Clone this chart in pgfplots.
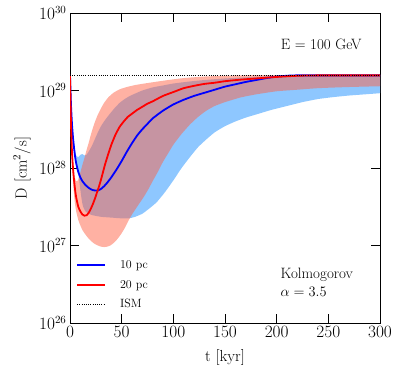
\documentclass[border=0pt]{standalone}
\usepackage{pgfplots}
\pgfplotsset{compat=1.18}
\usepgfplotslibrary{fillbetween}

\definecolor{bandblue}{RGB}{142,199,255}
\definecolor{bandred}{RGB}{255,99,71}

% all y values are log10 of D in cm^2/s
% blue band (10 pc)
\pgfplotstableread{
x y
0 29.20
1 28.82
2 28.58
3 28.42
4.5 28.26
6 28.16
8 28.14
10 28.17
12 28.18
14 28.16
16 28.17
18 28.21
21 28.28
24 28.37
27 28.46
30 28.54
34 28.62
38 28.69
43 28.77
48 28.84
53 28.89
58 28.93
63 28.96
70 29.00
80 29.04
90 29.065
100 29.09
115 29.115
130 29.135
150 29.155
170 29.17
190 29.185
210 29.195
240 29.20
300 29.20
}\bluehi
\pgfplotstableread{
x y
0 29.20
1 28.78
2 28.52
3 28.35
4 28.22
5 28.11
6 28.03
7 27.97
8 27.92
9 27.83
10 27.72
11 27.62
12 27.54
13 27.49
15 27.44
18 27.41
22 27.39
30 27.37
40 27.36
50 27.35
57 27.35
63 27.37
70 27.41
77 27.48
84 27.56
92 27.69
100 27.84
108 28.00
116 28.14
124 28.27
132 28.37
140 28.46
150 28.54
160 28.60
170 28.65
180 28.69
195 28.75
210 28.80
225 28.85
240 28.89
255 28.915
270 28.935
285 28.95
300 28.965
}\bluelo
% red band (20 pc)
\pgfplotstableread{
x y
0 29.20
0.5 28.88
1 28.62
1.5 28.42
2 28.26
3 28.04
4 27.92
5 27.86
6 27.83
7 27.83
8 27.85
9 27.89
10 27.94
12 28.04
14 28.13
16 28.23
18 28.32
20 28.42
22 28.51
24 28.59
27 28.69
30 28.77
33 28.84
37 28.91
42 28.97
48 29.015
55 29.045
63 29.07
72 29.09
82 29.11
95 29.135
110 29.16
130 29.18
150 29.19
175 29.197
300 29.20
}\redhi
\pgfplotstableread{
x y
0 29.20
0.5 28.85
1 28.55
1.5 28.30
2 28.10
3 27.82
4 27.64
5 27.52
6 27.44
8 27.33
10 27.26
12 27.20
14.5 27.15
18 27.09
21 27.05
24 27.02
27 27.00
30 26.985
33 26.98
36 26.985
39 27.00
42 27.03
45 27.07
48 27.12
51 27.18
54 27.25
57 27.33
60 27.40
64 27.48
68 27.56
72 27.64
76 27.73
80 27.83
85 27.95
90 28.08
95 28.19
100 28.30
108 28.44
116 28.56
124 28.66
132 28.74
140 28.80
150 28.85
165 28.91
180 28.95
200 28.99
220 29.01
240 29.03
270 29.045
300 29.055
}\redlo
% lines
\pgfplotstableread{
x y
0 29.20
1 28.80
2 28.55
3 28.38
4 28.25
5 28.14
6 28.06
8 27.95
10 27.88
12 27.83
15 27.78
18 27.745
21 27.72
24 27.71
27 27.71
30 27.73
33 27.765
36 27.81
40 27.88
45 27.98
50 28.09
55 28.21
60 28.32
65 28.42
70 28.50
75 28.57
80 28.64
90 28.74
100 28.82
110 28.88
120 28.93
130 28.97
140 29.01
150 29.05
160 29.08
170 29.11
180 29.135
190 29.16
200 29.18
210 29.19
220 29.195
300 29.195
}\bluepc
\pgfplotstableread{
x y
0 29.20
0.5 28.85
1 28.55
1.5 28.35
2 28.18
3 27.98
4 27.83
5 27.71
6 27.62
8 27.50
10 27.44
12 27.40
14 27.385
16 27.39
18 27.42
20 27.47
22 27.53
24 27.60
26 27.68
28 27.76
30 27.85
32 27.95
34 28.05
37 28.18
40 28.30
44 28.43
48 28.53
52 28.60
56 28.66
60 28.70
65 28.75
70 28.79
75 28.83
80 28.86
90 28.93
100 28.98
110 29.03
120 29.06
130 29.085
140 29.10
150 29.12
165 29.14
180 29.155
200 29.175
220 29.19
240 29.195
300 29.195
}\redpc

\begin{document}
\begin{tikzpicture}
\begin{axis}[
  name=ax,
  width=310pt, height=310pt, scale only axis,
  xmin=0, xmax=300, ymin=26, ymax=30,
  xtick={0,50,...,300},
  ytick={26,27,28,29,30},
  yticklabels={$10^{26}$,$10^{27}$,$10^{28}$,$10^{29}$,$10^{30}$},
  tick align=inside,
  major tick length=9pt,
  axis line style={line width=0.8pt},
  tick style={line width=0.8pt, black},
  tick label style={font=\fontsize{16}{19}\selectfont},
  xlabel={t [kyr]},
  ylabel={D [cm$^2$/s]},
  every axis x label/.style={at={(axis description cs:0.5,-0.11)}, anchor=center, font=\fontsize{16}{19}\selectfont},
  every axis y label/.style={at={(axis description cs:-0.155,0.5)}, rotate=90, anchor=center, font=\fontsize{16}{19}\selectfont},
  legend style={draw=none, fill=none, at={(axis description cs:0.01,0.03)}, anchor=south west,
    font=\fontsize{12}{14}\selectfont, row sep=6pt,
    /tikz/every odd column/.append style={column sep=12pt}},
  legend cell align=left,
  legend image code/.code={\draw[#1] (0pt,0pt) -- (28pt,0pt);},
]
\addplot[name path=bh, draw=none, forget plot, smooth, tension=0.3] table {\bluehi};
\addplot[name path=bl, draw=none, forget plot, smooth, tension=0.3] table {\bluelo};
\addplot[bandblue, forget plot] fill between[of=bh and bl];
\addplot[name path=rh, draw=none, forget plot, smooth, tension=0.3] table {\redhi};
\addplot[name path=rl, draw=none, forget plot, smooth, tension=0.3] table {\redlo};
\addplot[bandred, fill opacity=0.5, forget plot] fill between[of=rh and rl];

\addplot[blue, line width=1.8pt, smooth, tension=0.3] table {\bluepc};
\addlegendentry{10 pc}
\addplot[red, line width=1.8pt, smooth, tension=0.3] table {\redpc};
\addlegendentry{20 pc}
\addplot[black, line width=0.9pt, dash pattern=on 1pt off 1.2pt] coordinates {(0,29.2) (300,29.2)};
\addlegendentry{ISM}

\node[anchor=east, font=\fontsize{15}{18}\selectfont] at (rel axis cs:0.952,0.9) {E = 100 GeV};
\node[anchor=west, align=left, font=\fontsize{15}{18}\selectfont] at (rel axis cs:0.668,0.132) {Kolmogorov\\$\alpha = 3.5$};
\end{axis}
\pgfresetboundingbox
\path[use as bounding box] ([xshift=-70pt,yshift=-56pt]ax.south west) rectangle ([xshift=18pt,yshift=13pt]ax.north east);
\end{tikzpicture}
\end{document}
